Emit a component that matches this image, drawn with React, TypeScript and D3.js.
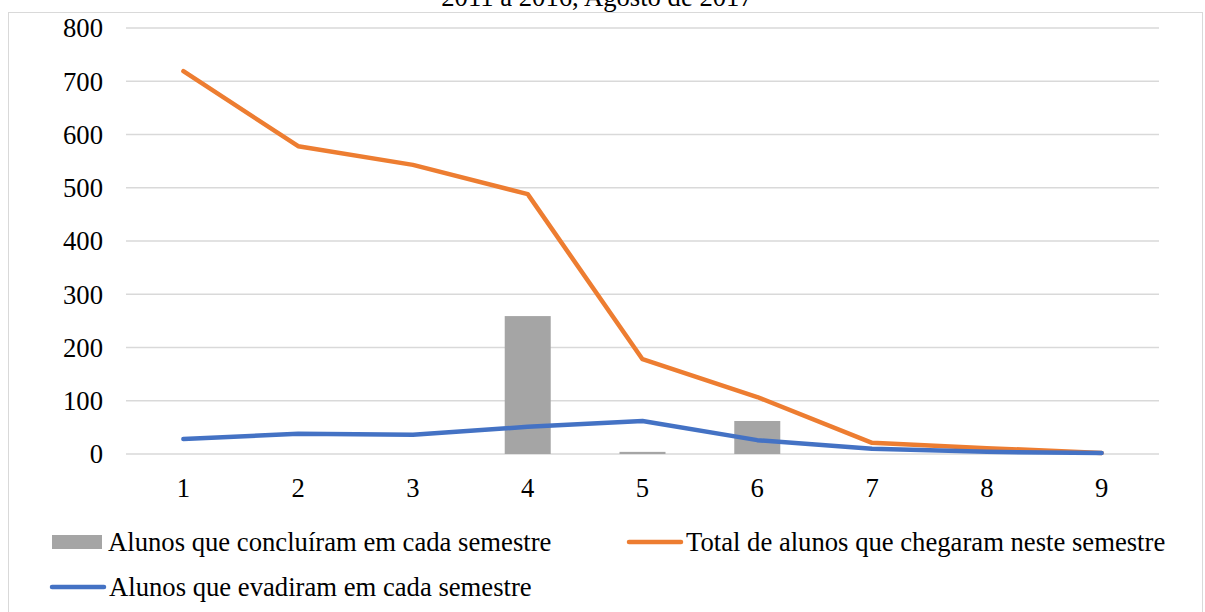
import React from "react";
import * as d3 from "d3";

const categories = ["1", "2", "3", "4", "5", "6", "7", "8", "9"];
const concluiram = [0, 0, 0, 259, 4, 62, 0, 0, 0];
const totalChegaram = [719, 578, 543, 488, 178, 107, 21, 11, 2];
const evadiram = [28, 38, 36, 51, 62, 26, 10, 4, 2];
const yTicks = [0, 100, 200, 300, 400, 500, 600, 700, 800];
const titleText = "2011 a 2016, Agosto de 2017";
const legendLabels = [
  "Alunos que concluíram em cada semestre",
  "Total de alunos que chegaram neste semestre",
  "Alunos que evadiram em cada semestre",
];

const W = 1205;
const H = 612;
const left = 126;
const right = 1159;
const top = 28;
const bottom = 454;
const font = "'Liberation Serif', 'Times New Roman', serif";
const ts = { fontFamily: font, fontSize: 26.67 };

export default function App() {
  const xp = d3.scalePoint<string>().domain(categories).range([left, right]).padding(0.5);
  const y = d3.scaleLinear().domain([0, 800]).range([bottom, top]);
  const line = d3
    .line<number>()
    .x((_, i) => xp(categories[i]) as number)
    .y((d) => y(d));
  const bw = 46;

  return (
    <svg width={W} height={H} style={{ position: "absolute", left: 0, top: 0, background: "#fff" }}>
      <rect x={0} y={0} width={W} height={H} fill="#fff" />
      <rect x={8.5} y={12.5} width={1194} height={620} fill="none" stroke="#d9d9d9" strokeWidth={1} />
      <text x={597} y={6} textAnchor="middle" style={ts} fill="#000">
        {titleText}
      </text>
      {yTicks.map((t) => (
        <g key={t}>
          <line x1={left} x2={right} y1={y(t)} y2={y(t)} stroke="#d9d9d9" strokeWidth={1.5} />
          <text x={103} y={y(t)} dy="0.35em" textAnchor="end" style={ts} fill="#000">
            {t}
          </text>
        </g>
      ))}
      {categories.map((c, i) => (
        <g key={c}>
          {concluiram[i] > 0 && (
            <rect
              x={(xp(c) as number) - bw / 2}
              y={y(concluiram[i])}
              width={bw}
              height={bottom - y(concluiram[i])}
              fill="#a5a5a5"
            />
          )}
          <text x={xp(c)} y={497} textAnchor="middle" style={ts} fill="#000">
            {c}
          </text>
        </g>
      ))}
      <path d={line(totalChegaram) || ""} fill="none" stroke="#ed7d31" strokeWidth={4.5} strokeLinejoin="round" strokeLinecap="round" />
      <path d={line(evadiram) || ""} fill="none" stroke="#4472c4" strokeWidth={4.5} strokeLinejoin="round" strokeLinecap="round" />
      <rect x={52} y={535} width={50} height={14} fill="#a5a5a5" />
      <text x={108} y={551} style={ts} fill="#000">{legendLabels[0]}</text>
      <line x1={629} x2={681} y1={542} y2={542} stroke="#ed7d31" strokeWidth={4.5} strokeLinecap="round" />
      <text x={686} y={551} style={ts} fill="#000">{legendLabels[1]}</text>
      <line x1={52} x2={104} y1={587} y2={587} stroke="#4472c4" strokeWidth={4.5} strokeLinecap="round" />
      <text x={109} y={596} style={ts} fill="#000">{legendLabels[2]}</text>
    </svg>
  );
}
